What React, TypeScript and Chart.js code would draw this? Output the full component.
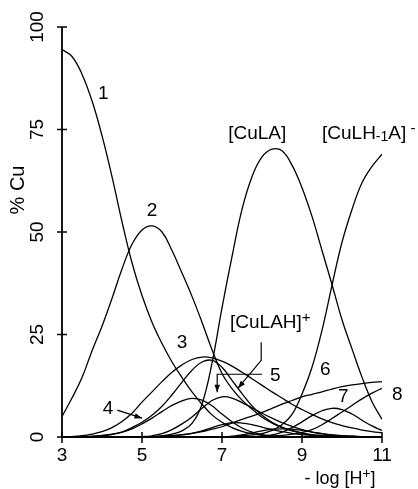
import React, { useEffect, useRef } from "react";
import { Chart, registerables } from "chart.js";

Chart.register(...registerables);

// -log[H+] grid
const XS = [3, 3.25, 3.5, 3.75, 4, 4.25, 4.5, 4.75, 5, 5.25, 5.5, 5.75, 6, 6.25, 6.5, 6.75, 7, 7.25, 7.5, 7.75, 8, 8.25, 8.5, 8.75, 9, 9.25, 9.5, 9.75, 10, 10.25, 10.5, 10.75, 11];

const S1 = [94.5, 92.8, 88.5, 82, 73.5, 63.5, 52.5, 42.5, 34.5, 28, 22.8, 18.3, 14.5, 11, 8, 5.4, 3.6, 2.3, 1.4, 0.8, 0.4, 0.2, 0.1, 0, 0, 0, 0, 0, 0, 0, 0, 0, 0];
const S2 = [5, 9.5, 14.5, 21, 27, 33.8, 41, 47, 50.5, 51.5, 50, 45.5, 40, 34.3, 28, 21.3, 15.5, 11.8, 9, 6.8, 4.8, 3.4, 2.3, 1.5, 0.9, 0.5, 0.3, 0.2, 0.1, 0, 0, 0, 0];
const CULA = [0, 0, 0, 0, 0, 0, 0, 0, 0, 0.1, 0.3, 0.7, 1.5, 3.3, 8, 18, 31.5, 44, 55.5, 63.5, 68.3, 70.2, 69.8, 66.3, 60.8, 53.8, 45.5, 37.2, 28.6, 21.5, 14.6, 8.6, 4.3];
const CULH1A = [0, 0, 0, 0, 0, 0, 0, 0, 0, 0, 0, 0, 0, 0, 0, 0, 0, 0, 0.3, 0.5, 0.8, 1.6, 3, 5.5, 10.5, 17, 26, 37, 47.5, 55.5, 62, 66, 69];
const S3 = [0, 0.1, 0.3, 0.7, 1.3, 2.3, 3.8, 5.8, 8.5, 11, 13.5, 15.8, 17.6, 18.9, 19.5, 19.3, 18.5, 17.3, 15.8, 14.2, 12.6, 11, 9.5, 8, 6.7, 5.5, 4.4, 3.5, 2.8, 2.2, 1.7, 1.3, 1.0];
const CULAH = [0, 0, 0, 0.1, 0.3, 0.6, 1.2, 2.3, 3.6, 5.3, 7.5, 10.3, 13.4, 16.3, 18.3, 18.7, 17, 13.8, 10.6, 7.6, 5.3, 3.6, 2.4, 1.6, 1, 0.6, 0.4, 0.3, 0.2, 0.1, 0.1, 0, 0];
const S4 = [0, 0, 0.1, 0.2, 0.4, 0.7, 1.2, 2, 3.2, 4.6, 6.2, 7.7, 8.8, 9.4, 9, 7.6, 5.6, 3.7, 2.2, 1.2, 0.6, 0.3, 0.1, 0, 0, 0, 0, 0, 0, 0, 0, 0, 0];
const S5 = [0, 0, 0, 0, 0, 0, 0, 0, 0.1, 0.3, 0.8, 1.8, 3.2, 4.9, 7, 8.9, 9.8, 9.5, 8.4, 7.1, 5.8, 4.6, 3.5, 2.6, 1.8, 1.2, 0.8, 0.5, 0.3, 0.2, 0.1, 0.1, 0];
const SA = [0, 0, 0, 0, 0, 0, 0, 0, 0, 0, 0, 0.2, 0.5, 0.9, 1.5, 2.3, 3, 3.5, 3.4, 3, 2.4, 1.8, 1.3, 0.9, 0.6, 0.4, 0.2, 0.1, 0, 0, 0, 0, 0];
const S6 = [0, 0, 0, 0, 0, 0, 0, 0, 0, 0, 0.2, 0.4, 0.6, 0.9, 1.3, 1.9, 2.5, 3.4, 4.3, 5.1, 6, 7, 8, 8.9, 9.8, 10.4, 11, 11.7, 12.3, 12.7, 13, 13.3, 13.5];
const S7 = [0, 0, 0, 0, 0, 0, 0, 0, 0, 0, 0, 0, 0, 0, 0, 0, 0, 0, 0, 0, 0.2, 0.5, 1.2, 2.3, 3.7, 5.2, 6.4, 7, 6.7, 5.6, 4.1, 2.7, 1.6];
const S8 = [0, 0, 0, 0, 0, 0, 0, 0, 0, 0, 0, 0, 0, 0, 0, 0, 0, 0, 0, 0, 0, 0.2, 0.4, 0.7, 1.1, 1.8, 3, 4.5, 6.1, 7.7, 9.3, 10.7, 11.9];
const SB = [0, 0, 0, 0, 0, 0, 0, 0, 0, 0, 0, 0, 0, 0, 0, 0, 0, 0.2, 0.5, 1, 1.5, 1.9, 2, 1.9, 1.6, 1.2, 0.8, 0.5, 0.3, 0.2, 0.1, 0, 0];

const SERIES = [S1, S2, CULA, CULH1A, S3, CULAH, S4, S5, SA, S6, S7, S8, SB];

const X_TICKS = [3, 5, 7, 9, 11];
const Y_TICKS = [0, 25, 50, 75, 100];

type Part = { t: string; dy?: number; s?: number };
// curve labels in data coordinates
const LABELS: { x: number; y: number; align: "center" | "left"; parts: Part[] }[] = [
  { x: 4.03, y: 83.7, align: "center", parts: [{ t: "1" }] },
  { x: 5.25, y: 55.1, align: "center", parts: [{ t: "2" }] },
  { x: 7.88, y: 74, align: "center", parts: [{ t: "[CuLA]" }] },
  { x: 9.5, y: 74, align: "left", parts: [{ t: "[CuLH" }, { t: "-1", dy: 4, s: 0.75 }, { t: "A]" }, { t: " -", dy: -5, s: 0.8 }] },
  { x: 6.0, y: 23.1, align: "center", parts: [{ t: "3" }] },
  { x: 7.2, y: 27.9, align: "left", parts: [{ t: "[CuLAH]" }, { t: "+", dy: -5, s: 0.8 }] },
  { x: 4.15, y: 7.0, align: "center", parts: [{ t: "4" }] },
  { x: 8.33, y: 15, align: "center", parts: [{ t: "5" }] },
  { x: 9.58, y: 16.3, align: "center", parts: [{ t: "6" }] },
  { x: 10.03, y: 9.7, align: "center", parts: [{ t: "7" }] },
  { x: 11.38, y: 10.2, align: "center", parts: [{ t: "8" }] },
];

// arrows (polyline in data coordinates, head at last point)
const ARROWS: number[][][] = [
  [[4.38, 6.55], [5.0, 4.6]],
  [[8.0, 15.3], [6.88, 15.3], [6.88, 10.9]],
  [[7.98, 23.1], [7.98, 18.7], [7.4, 11.9]],
];

const FONT = "Liberation Sans, Arial, Helvetica, sans-serif";

function drawParts(ctx: CanvasRenderingContext2D, x: number, y: number, parts: Part[], size: number, align: string) {
  const widths = parts.map((p) => {
    ctx.font = `${Math.round(size * (p.s ?? 1))}px ${FONT}`;
    return ctx.measureText(p.t).width;
  });
  const total = widths.reduce((a, b) => a + b, 0);
  let cx = align === "center" ? x - total / 2 : x;
  ctx.textAlign = "left";
  ctx.textBaseline = "middle";
  parts.forEach((p, i) => {
    ctx.font = `${Math.round(size * (p.s ?? 1))}px ${FONT}`;
    ctx.fillText(p.t, cx, y + (p.dy ?? 0));
    cx += widths[i];
  });
}

const decorPlugin = {
  id: "decor",
  afterDraw(chart: any) {
    const ctx: CanvasRenderingContext2D = chart.ctx;
    const xs = chart.scales.x;
    const ys = chart.scales.y;
    const px = (v: number) => xs.getPixelForValue(v);
    const py = (v: number) => ys.getPixelForValue(v);
    ctx.save();
    ctx.strokeStyle = "#000";
    ctx.fillStyle = "#000";
    ctx.lineWidth = 1.8;
    ctx.beginPath();
    ctx.moveTo(px(3), py(100));
    ctx.lineTo(px(3), py(0));
    ctx.lineTo(px(11), py(0));
    ctx.stroke();
    ctx.lineWidth = 1.5;
    ctx.beginPath();
    Y_TICKS.forEach((v) => {
      ctx.moveTo(px(3) - 5, py(v));
      ctx.lineTo(px(3) + 5, py(v));
    });
    X_TICKS.forEach((v) => {
      ctx.moveTo(px(v), py(0) - 5);
      ctx.lineTo(px(v), py(0) + 6);
    });
    ctx.stroke();

    ctx.font = `19px ${FONT}`;
    ctx.textAlign = "center";
    ctx.textBaseline = "middle";
    X_TICKS.forEach((v) => ctx.fillText(String(v), px(v), py(0) + 19));
    Y_TICKS.forEach((v) => {
      ctx.save();
      ctx.translate(px(3) - 24, py(v));
      ctx.rotate(-Math.PI / 2);
      ctx.fillText(String(v), 0, 0);
      ctx.restore();
    });
    // axis titles
    ctx.save();
    ctx.translate(px(3) - 44, 190);
    ctx.rotate(-Math.PI / 2);
    ctx.font = `20px ${FONT}`;
    ctx.fillText("% Cu", 0, 0);
    ctx.restore();
    drawParts(ctx, 340, 479, [{ t: "- log [H" }, { t: "+", dy: -5, s: 0.75 }, { t: "]" }], 18, "center");

    LABELS.forEach((l) => drawParts(ctx, px(l.x), py(l.y), l.parts, 19, l.align));

    ctx.lineWidth = 1.2;
    ARROWS.forEach((a) => {
      ctx.beginPath();
      a.forEach(([x, y], i) => (i === 0 ? ctx.moveTo(px(x), py(y)) : ctx.lineTo(px(x), py(y))));
      ctx.stroke();
      const [x1, y1] = a[a.length - 2];
      const [x2, y2] = a[a.length - 1];
      const ang = Math.atan2(py(y2) - py(y1), px(x2) - px(x1));
      const hx = px(x2), hy = py(y2);
      ctx.beginPath();
      ctx.moveTo(hx, hy);
      ctx.lineTo(hx - 8 * Math.cos(ang - 0.35), hy - 8 * Math.sin(ang - 0.35));
      ctx.lineTo(hx - 8 * Math.cos(ang + 0.35), hy - 8 * Math.sin(ang + 0.35));
      ctx.closePath();
      ctx.fill();
    });
    ctx.restore();
  },
};

export default function App() {
  const ref = useRef<HTMLCanvasElement>(null);
  useEffect(() => {
    if (!ref.current) return;
    const chart = new Chart(ref.current, {
      type: "line",
      data: {
        datasets: SERIES.map((s, i) => ({
          label: "s" + i,
          data: XS.map((x, j) => ({ x, y: s[j] })),
          borderColor: "#000",
          borderWidth: 1.3,
          pointRadius: 0,
          fill: false,
          tension: 0.4,
        })),
      },
      options: {
        animation: false,
        responsive: false,
        devicePixelRatio: 1,
        layout: { padding: { left: 62, right: 36, top: 27, bottom: 52 } },
        plugins: { legend: { display: false }, tooltip: { enabled: false } },
        scales: {
          x: { type: "linear", min: 3, max: 11, display: false },
          y: { type: "linear", min: 0, max: 100, display: false },
        },
      },
      plugins: [decorPlugin],
    });
    return () => chart.destroy();
  }, []);
  return (
    <div style={{ position: "absolute", left: 0, top: 0, width: 418, height: 489, background: "#fff" }}>
      <canvas ref={ref} width={418} height={489} style={{ display: "block" }} />
    </div>
  );
}
